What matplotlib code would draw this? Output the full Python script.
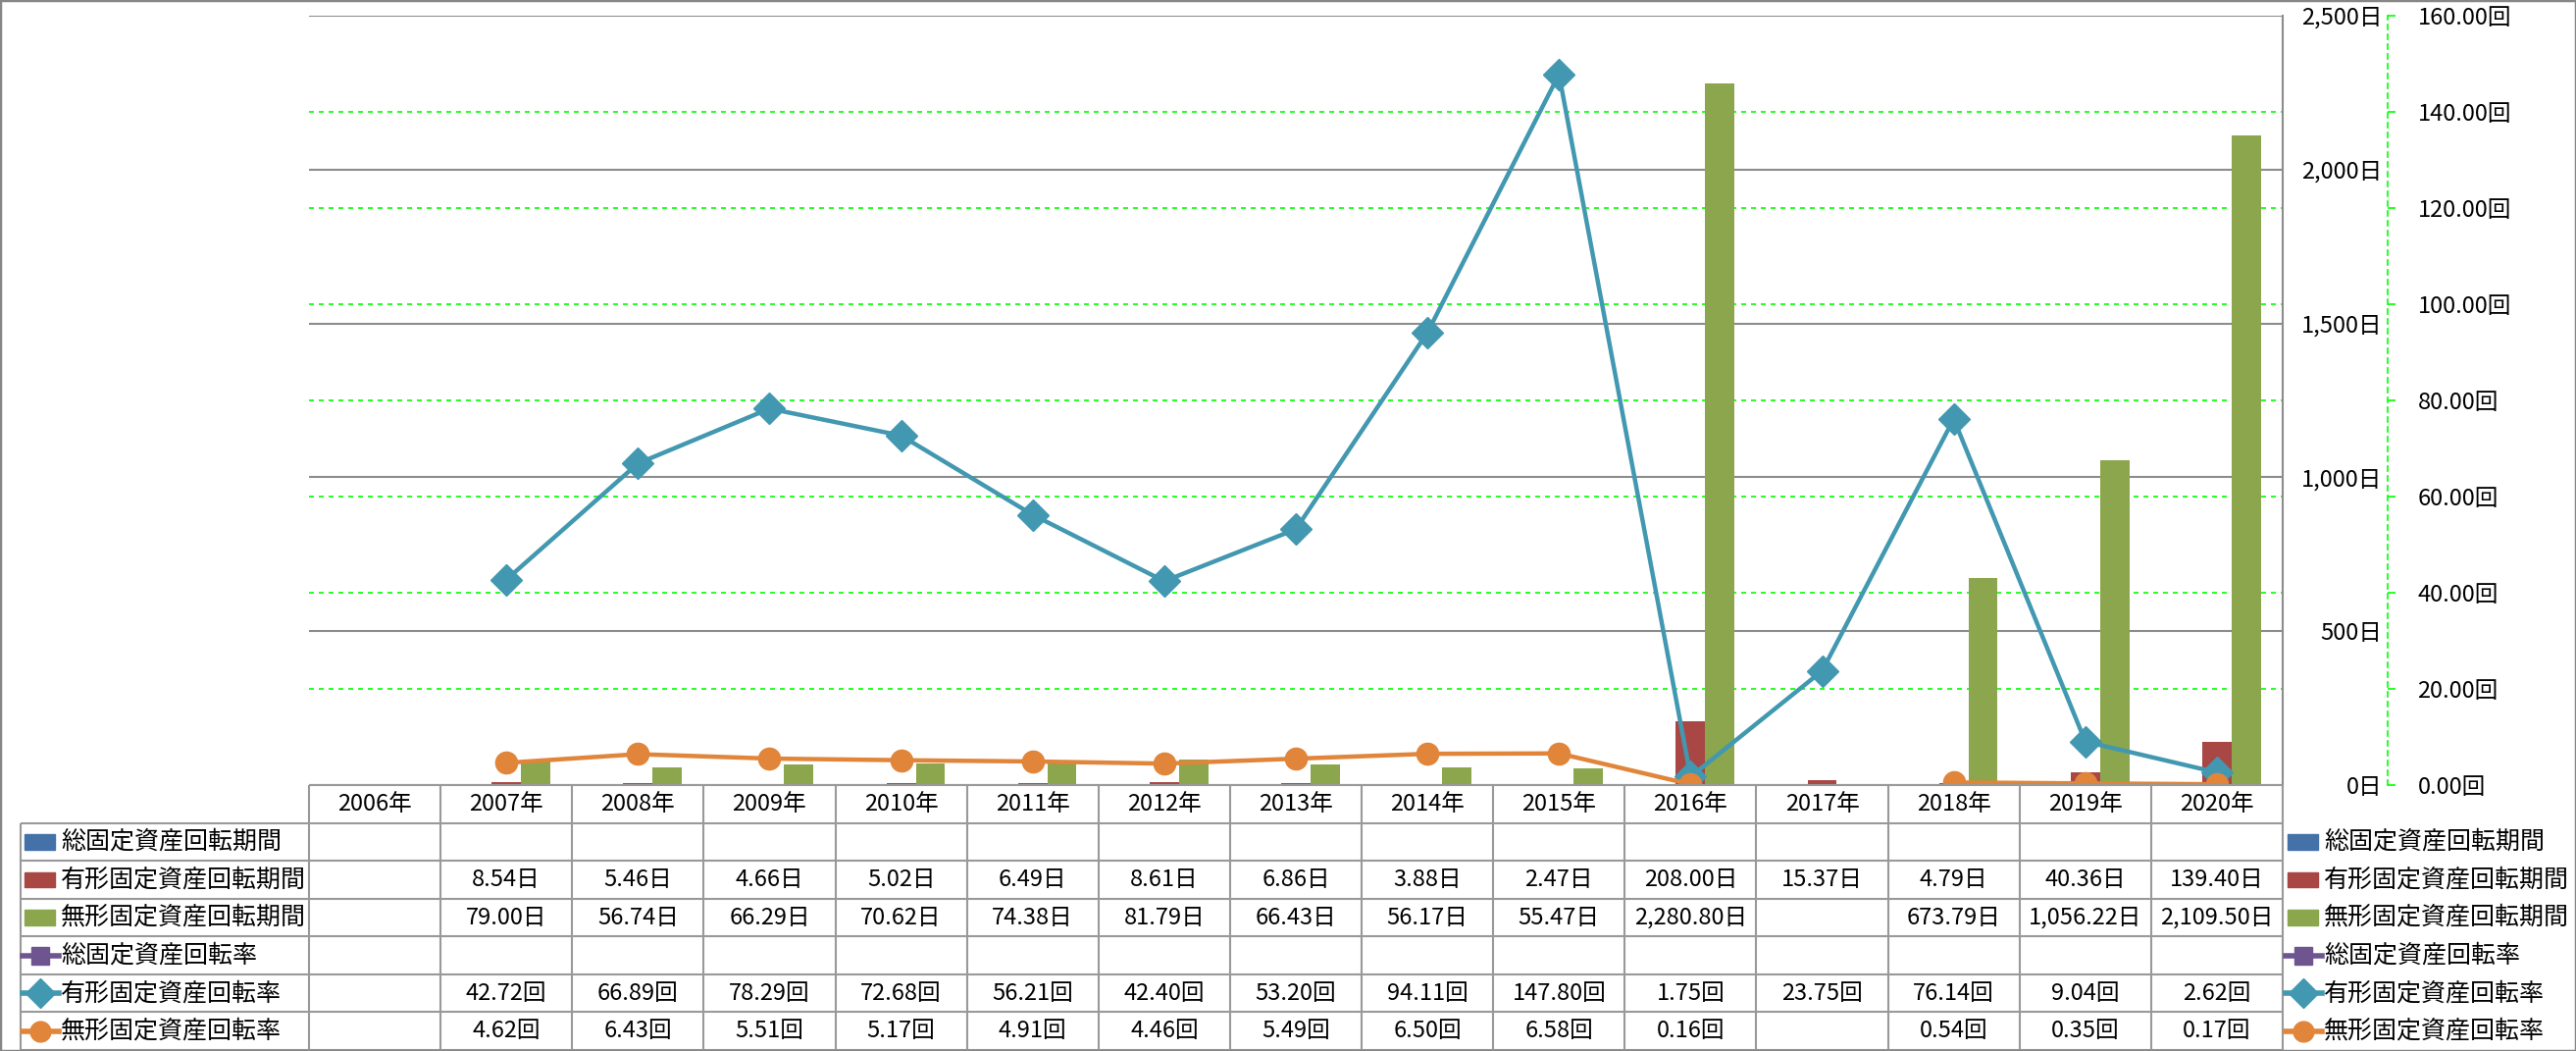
import numpy as np
import matplotlib
matplotlib.use("Agg")
import matplotlib.pyplot as plt
import matplotlib.transforms as mtransforms
from matplotlib.patches import Rectangle
from matplotlib.lines import Line2D
from matplotlib.ticker import FuncFormatter, MultipleLocator

plt.rcParams['font.family'] = ['Noto Sans CJK JP', 'DejaVu Sans']

# データ
years = ["2006年", "2007年", "2008年", "2009年", "2010年", "2011年", "2012年", "2013年",
         "2014年", "2015年", "2016年", "2017年", "2018年", "2019年", "2020年"]
nan = np.nan
total_period = [nan] * 15
tangible_period = [nan, 8.54, 5.46, 4.66, 5.02, 6.49, 8.61, 6.86, 3.88, 2.47, 208.00, 15.37, 4.79, 40.36, 139.40]
intangible_period = [nan, 79.00, 56.74, 66.29, 70.62, 74.38, 81.79, 66.43, 56.17, 55.47, 2280.80, nan, 673.79, 1056.22, 2109.50]
total_rate = [nan] * 15
tangible_rate = [nan, 42.72, 66.89, 78.29, 72.68, 56.21, 42.40, 53.20, 94.11, 147.80, 1.75, 23.75, 76.14, 9.04, 2.62]
intangible_rate = [nan, 4.62, 6.43, 5.51, 5.17, 4.91, 4.46, 5.49, 6.50, 6.58, 0.16, nan, 0.54, 0.35, 0.17]

series_names = ["総固定資産回転期間", "有形固定資産回転期間", "無形固定資産回転期間",
                "総固定資産回転率", "有形固定資産回転率", "無形固定資産回転率"]

c_blue = "#4472A8"
c_red = "#A84744"
c_green = "#8BA64D"
c_purple = "#6F5590"
c_teal = "#4298B0"
c_orange = "#E0853A"
grid_gray = "#8C8C8C"
line_gray = "#999999"

W, H = 2626, 1071
fig = plt.figure(figsize=(W / 100, H / 100), dpi=100)

# プロットエリア
rect = [315 / W, (H - 800) / H, 2012 / W, 784 / H]
x = np.arange(len(years))

# 緑の点線グリッド（回転率の目盛り）
ax_g = fig.add_axes(rect)
ax_g.set_ylim(0, 160)
ax_g.set_xlim(-0.5, 14.5)
ax_g.yaxis.set_major_locator(MultipleLocator(20))
ax_g.grid(axis='y', color='#00FF00', linestyle=(0, (3, 3)), linewidth=1.2)
ax_g.tick_params(left=False, bottom=False, labelleft=False, labelbottom=False)
for s in ax_g.spines.values():
    s.set_visible(False)

# 棒グラフ（日数）
ax = fig.add_axes(rect)
ax.patch.set_alpha(0)
ax.set_xlim(-0.5, 14.5)
ax.set_ylim(0, 2500)
ax.yaxis.set_major_locator(MultipleLocator(500))
ax.grid(axis='y', color=grid_gray, linewidth=1.5)
ax.set_axisbelow(True)
bw = 1 / 4.5
ax.bar(x - bw, total_period, bw, color=c_blue)
ax.bar(x, tangible_period, bw, color=c_red)
ax.bar(x + bw, intangible_period, bw, color=c_green)

# 折れ線（回転率）
ax2 = ax.twinx()
ax2.set_ylim(0, 160)
ax2.yaxis.set_major_locator(MultipleLocator(20))
ax2.yaxis.set_major_formatter(FuncFormatter(lambda v, p: f"{v:.2f}回"))
ax2.plot(x, total_rate, color=c_purple, marker='s', lw=3.2, ms=14)
ax2.plot(x, tangible_rate, color=c_teal, marker='D', lw=3.2, ms=16)
ax2.plot(x, intangible_rate, color=c_orange, marker='o', lw=3.2, ms=16)
for k in ['left', 'top', 'bottom']:
    ax2.spines[k].set_visible(False)
ax2.spines['right'].set_position(('axes', (2434 - 315) / 2012))
ax2.spines['right'].set_color('#00FF00')
ax2.spines['right'].set_linestyle((0, (3, 3)))
ax2.spines['right'].set_linewidth(1.2)
ax2.tick_params(axis='y', color='#00FF00', length=6, width=1.2, pad=16, labelsize=17)

# 日数の目盛りはプロットエリアの右側（twinx の後で設定）
ax.yaxis.tick_right()
ax.yaxis.set_major_formatter(FuncFormatter(lambda v, p: f"{v:,.0f}日"))
ax.tick_params(axis='y', length=0, pad=73, labelsize=17, labelleft=False, labelright=True)
for lab in ax.get_yticklabels():
    lab.set_horizontalalignment('right')
ax.tick_params(axis='x', bottom=False, labelbottom=False)
for k in ['left', 'top', 'bottom']:
    ax.spines[k].set_visible(False)
ax.spines['right'].set_color(grid_gray)
ax.spines['right'].set_linewidth(1.5)

# データテーブル
tab = fig.add_axes([315 / W, 1 / H, 2012 / W, 270 / H], sharex=ax)
tab.set_ylim(7, 0)
tab.axis('off')
label_left = -0.5 - (315 - 21) / 134.1
tab.vlines(np.arange(16) - 0.5, 0, 7, color=line_gray, lw=1.5, clip_on=False)
tab.vlines([label_left], 1, 7, color=line_gray, lw=1.5, clip_on=False)
tab.hlines([0], -0.5, 14.5, color=line_gray, lw=1.5, clip_on=False)
tab.hlines(np.arange(1, 8), label_left, 14.5, color=line_gray, lw=1.5, clip_on=False)

for i, yr in enumerate(years):
    tab.text(i, 0.5, yr, ha='center', va='center', fontsize=17, clip_on=False)

rows = [total_period, tangible_period, intangible_period, total_rate, tangible_rate, intangible_rate]
units = ["日", "日", "日", "回", "回", "回"]
for r, (vals, u) in enumerate(zip(rows, units)):
    for i, v in enumerate(vals):
        if not np.isnan(v):
            tab.text(i, r + 1.5, f"{v:,.2f}{u}", ha='center', va='center', fontsize=17, clip_on=False)

# 凡例キー（テーブル左と右）
trans = mtransforms.blended_transform_factory(fig.transFigure, tab.transData)
colors = [c_blue, c_red, c_green, c_purple, c_teal, c_orange]
markers = [None, None, None, 's', 'D', 'o']
for key_x0, text_x in [(25, 62), (2332, 2369)]:
    for r, (name, col, mk) in enumerate(zip(series_names, colors, markers)):
        yc = r + 1.5
        if mk is None:
            fig.add_artist(Rectangle((key_x0 / W, yc - 0.2), 31 / W, 0.4, transform=trans,
                                     color=col, clip_on=False))
        else:
            fig.add_artist(Line2D([(key_x0 - 2) / W, (key_x0 + 35) / W], [yc, yc], transform=trans,
                                  color=col, lw=4, marker=None, clip_on=False))
            fig.add_artist(Line2D([(key_x0 + 16) / W], [yc], transform=trans, color=col,
                                  marker=mk, ms=15 if mk != 's' else 13, lw=0, clip_on=False))
        fig.text(text_x / W, yc, name, transform=trans, ha='left', va='center', fontsize=18)

# 外枠
fig.add_artist(Rectangle((0, 0), 1, 1, transform=fig.transFigure, fill=False,
                         ec='#868686', lw=2.5))

fig.savefig("out.png", dpi=100)
